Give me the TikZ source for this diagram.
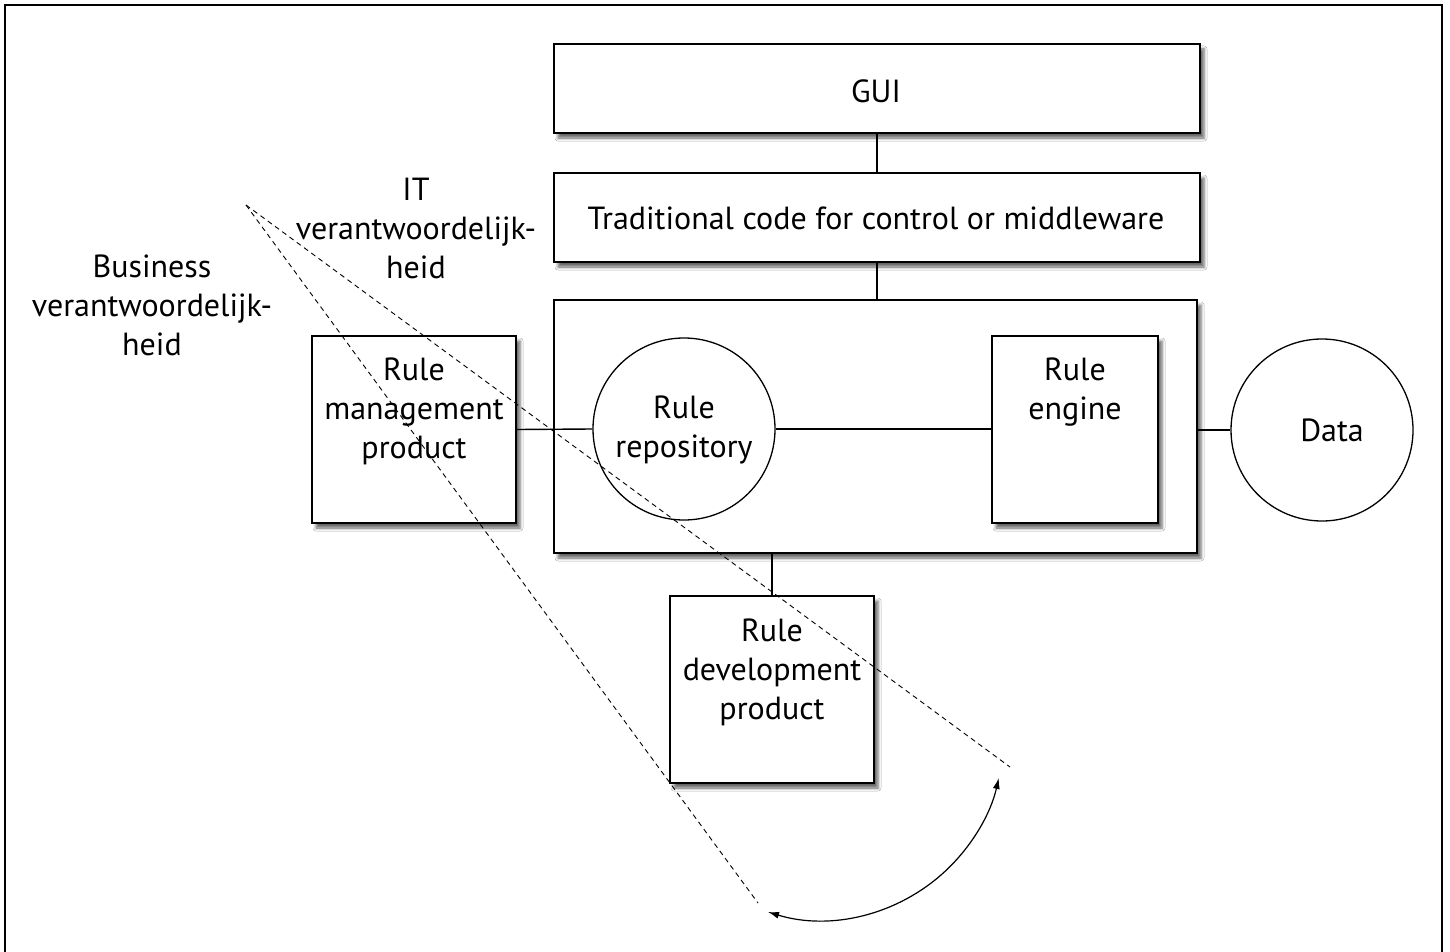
\documentclass[tikz,border=0pt]{standalone}
\usepackage{fontspec}
\setmainfont{PT Sans}
\usetikzlibrary{arrows.meta,shadows.blur}
\begin{document}
\begin{tikzpicture}[x=1pt,y=-1pt,
  every node/.style={font=\fontsize{32}{39}\selectfont},
  box/.style={draw,line width=1.4pt,fill=white,inner sep=0pt,
    blur shadow={shadow xshift=4pt,shadow yshift=-5pt,shadow blur radius=3pt,shadow opacity=60}},
  disc/.style={draw,line width=1.3pt,fill=white,circle,inner sep=0pt},
  txt/.style={align=center,inner sep=0pt},
  link/.style={line width=1.4pt},
  zone/.style={line width=0.9pt,dash pattern=on 5pt off 4pt},
  turn/.style={line width=1.2pt,{Latex[length=11pt,width=7pt]}-{Latex[length=11pt,width=7pt]}}]
\useasboundingbox (0,0) rectangle (1450,952);
\clip (0,0) rectangle (1450,952);
\fill[white] (0,0) rectangle (1450,952);
% outer frame
\draw[line width=2pt] (5,5) rectangle (1442,980);

% stacked layers
\node[box,minimum width=646pt,minimum height=89pt] (gui) at (877,88.5) {};
\node[box,minimum width=646pt,minimum height=89pt] (trad) at (877,217.5) {};
\node[box,minimum width=643pt,minimum height=253pt] (core) at (875.5,426.5) {};
\node[box,minimum width=204pt,minimum height=187pt] (mgmt) at (414,429.5) {};
\node[box,minimum width=166pt,minimum height=187pt] (engine) at (1075,429.5) {};
\node[box,minimum width=204pt,minimum height=187pt] (dev) at (772,689.5) {};
\node[disc,minimum size=182pt] (repo) at (684,429) {};
\node[disc,minimum size=182pt] (data) at (1322,430) {};

% connectors
\draw[link] (gui.south) -- (trad.north);
\draw[link] (trad.south) -- (core.north -| trad.south);
\draw[link] (mgmt.east) -- (repo.west);
\draw[link] (repo.east) -- (engine.west |- repo.east);
\draw[link] (data.west -| core.east) -- (data.west);
\draw[link] (dev.north |- core.south) -- (dev.north);

% labels
\node[txt] (guiT) at (876,91) {GUI};
\node[txt] (tradT) at (876,218) {Traditional code for control or middleware};
\node[txt] (mgmtT) at (414,411) {Rule\\management\\product};
\node[txt] (repoT) at (684,429.5) {Rule\\repository};
\node[txt] (engineT) at (1075,392) {Rule\\engine};
\node[txt] (dataT) at (1332,430) {Data};
\node[txt] (devT) at (772,672) {Rule\\development\\product};
\node[txt] (itT) at (416,228) {IT\\verantwoordelijk-\\heid};
\node[txt] (bizT) at (152,305) {Business\\verantwoordelijk-\\heid};

% responsibility wedge
\coordinate (apex) at (246,205);
\coordinate (endL) at (758,903);
\coordinate (endR) at (1010,767);
\draw[zone] (apex) -- (endL);
\draw[zone] (apex) -- (endR);
\coordinate (arcA) at (768,912);
\draw[turn] (arcA) arc[start angle=-107,end angle=-12.7,radius=182pt];
\end{tikzpicture}
\end{document}
